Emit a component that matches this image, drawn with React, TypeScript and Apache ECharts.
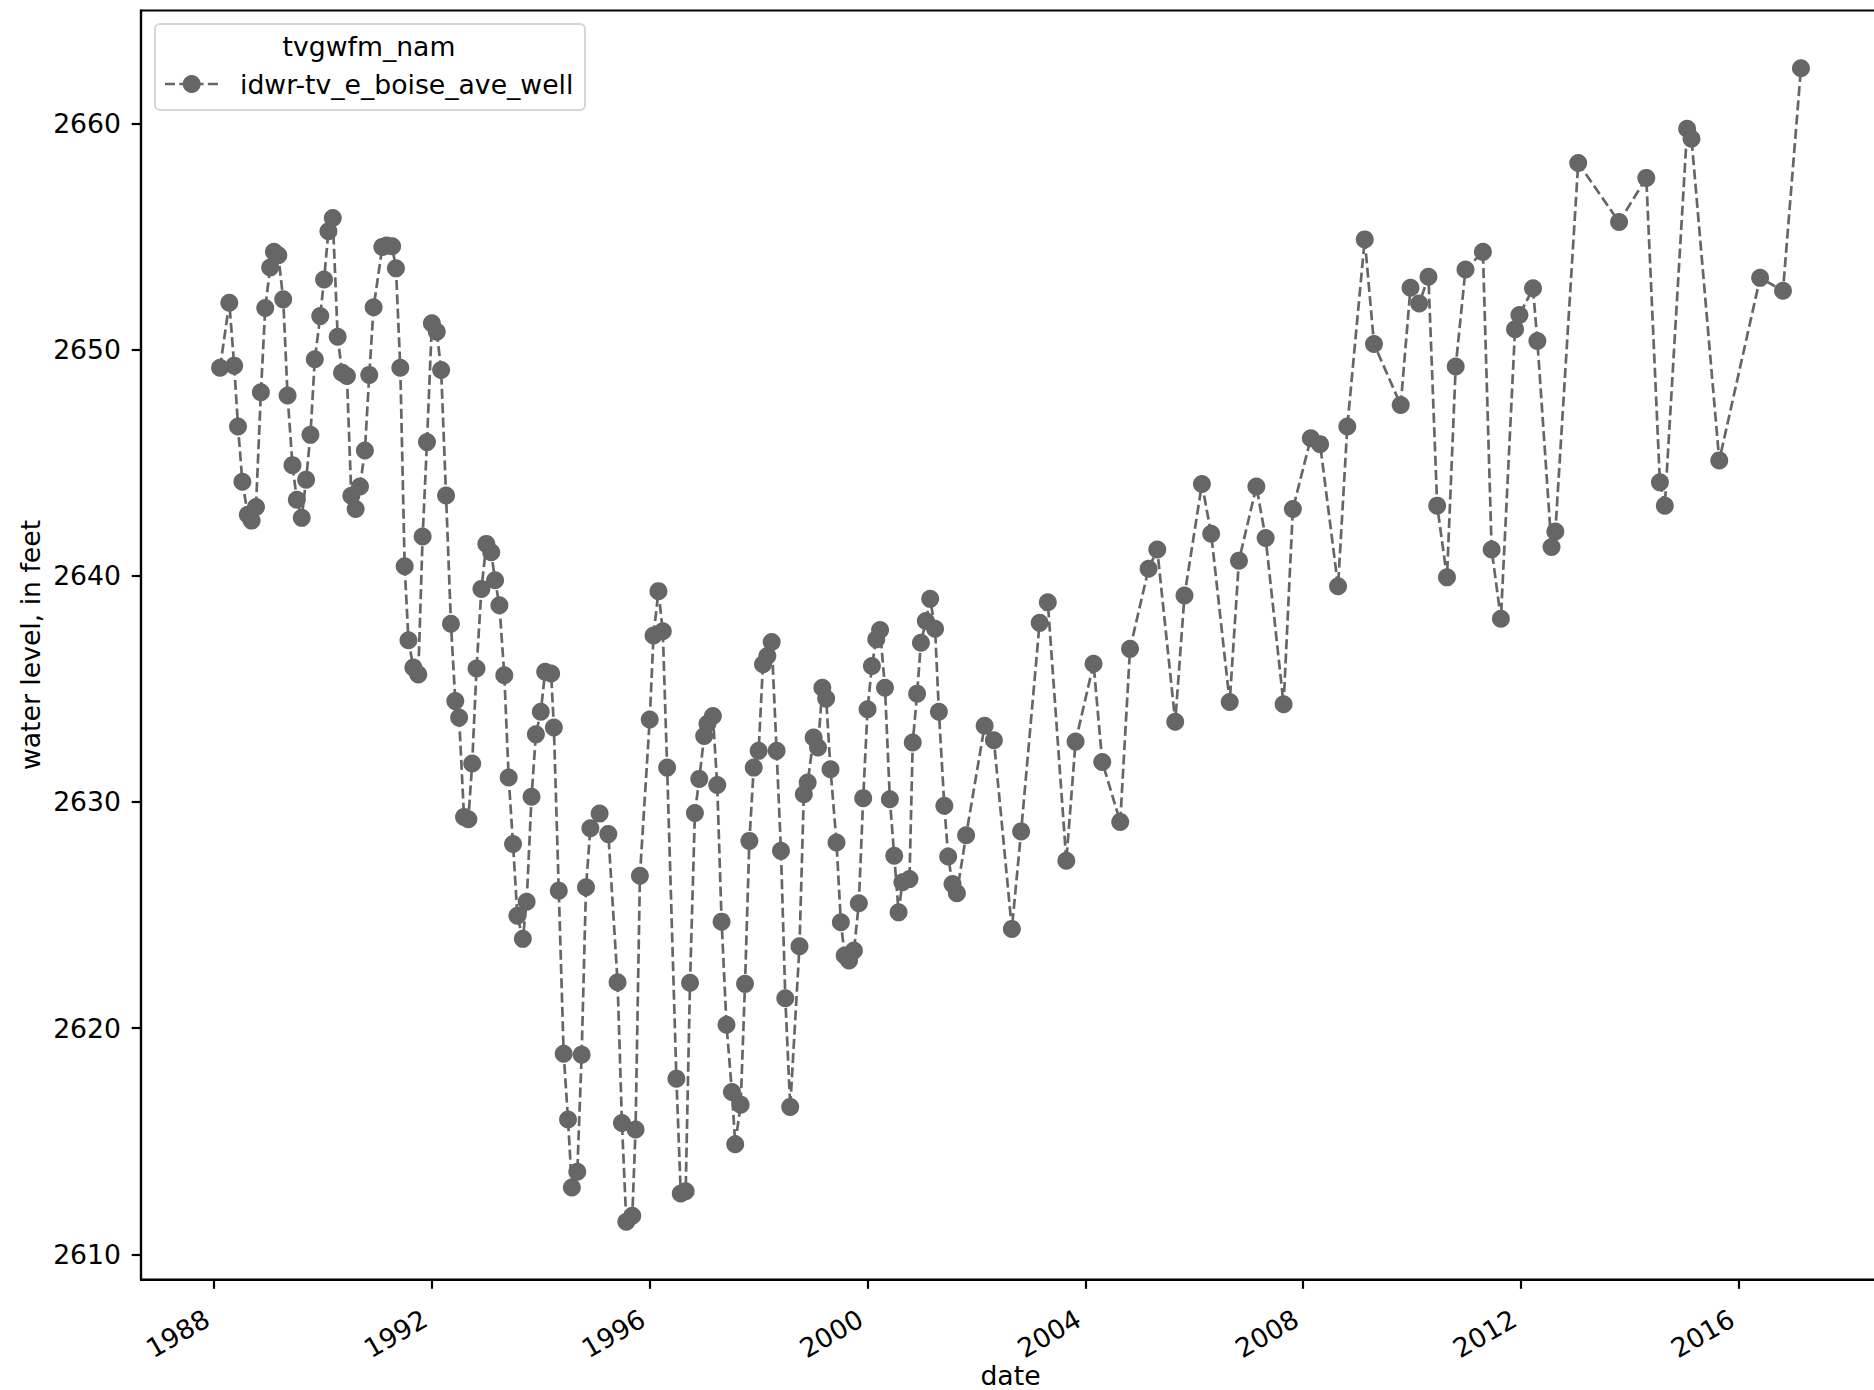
import React, { useEffect, useRef } from "react";
import * as echarts from "echarts";

// Measurement time (decimal year) and water level (feet)
const years: number[] = [
  1988.11, 1988.28, 1988.37, 1988.44, 1988.52, 1988.62, 1988.69, 1988.77, 1988.86, 1988.94,
  1989.03, 1989.10, 1989.18, 1989.27, 1989.35, 1989.44, 1989.52, 1989.61, 1989.69, 1989.77,
  1989.85, 1989.95, 1990.02, 1990.10, 1990.18, 1990.27, 1990.35, 1990.44, 1990.52, 1990.60,
  1990.68, 1990.77, 1990.85, 1990.93, 1991.09, 1991.17, 1991.27, 1991.34, 1991.42, 1991.50,
  1991.57, 1991.66, 1991.75, 1991.83, 1991.91, 1992.00, 1992.09, 1992.17, 1992.26, 1992.35,
  1992.43, 1992.50, 1992.59, 1992.67, 1992.74, 1992.82, 1992.91, 1993.00, 1993.09, 1993.16,
  1993.24, 1993.33, 1993.41, 1993.49, 1993.57, 1993.67, 1993.74, 1993.83, 1993.91, 1994.00,
  1994.08, 1994.19, 1994.24, 1994.33, 1994.42, 1994.50, 1994.57, 1994.67, 1994.75, 1994.83,
  1994.91, 1995.08, 1995.24, 1995.41, 1995.49, 1995.57, 1995.68, 1995.74, 1995.82, 1996.00,
  1996.07, 1996.16, 1996.24, 1996.32, 1996.49, 1996.57, 1996.66, 1996.74, 1996.83, 1996.91,
  1997.00, 1997.06, 1997.16, 1997.24, 1997.32, 1997.41, 1997.51, 1997.57, 1997.67, 1997.75,
  1997.83, 1997.91, 1998.00, 1998.08, 1998.16, 1998.24, 1998.33, 1998.41, 1998.49, 1998.58,
  1998.75, 1998.83, 1998.90, 1999.01, 1999.09, 1999.17, 1999.24, 1999.32, 1999.43, 1999.51,
  1999.58, 1999.66, 1999.75, 1999.84, 1999.92, 2000.00, 2000.08, 2000.16, 2000.23, 2000.32,
  2000.41, 2000.49, 2000.57, 2000.64, 2000.77, 2000.83, 2000.91, 2000.98, 2001.07, 2001.15,
  2001.24, 2001.31, 2001.41, 2001.48, 2001.56, 2001.64, 2001.81, 2002.15, 2002.32, 2002.65,
  2002.82, 2003.16, 2003.31, 2003.65, 2003.82, 2004.15, 2004.31, 2004.64, 2004.82, 2005.16,
  2005.32, 2005.65, 2005.82, 2006.14, 2006.31, 2006.65, 2006.82, 2007.14, 2007.31, 2007.64,
  2007.81, 2008.14, 2008.31, 2008.64, 2008.81, 2009.13, 2009.30, 2009.79, 2009.97, 2010.13,
  2010.30, 2010.46, 2010.64, 2010.80, 2010.98, 2011.30, 2011.46, 2011.63, 2011.89, 2011.97,
  2012.22, 2012.30, 2012.56, 2012.63, 2013.05, 2013.80, 2014.30, 2014.55, 2014.64, 2015.05,
  2015.13, 2015.64, 2016.39, 2016.81, 2017.14,
];

const waterLevel: number[] = [
  2649.20, 2652.07, 2649.29, 2646.60, 2644.16, 2642.70, 2642.44, 2643.04, 2648.11, 2651.84,
  2653.63, 2654.32, 2654.17, 2652.22, 2647.97, 2644.89, 2643.36, 2642.56, 2644.25, 2646.23,
  2649.57, 2651.48, 2653.10, 2655.23, 2655.82, 2650.57, 2648.98, 2648.83, 2643.54, 2642.95,
  2643.95, 2645.54, 2648.88, 2651.87, 2654.54, 2654.60, 2654.57, 2653.59, 2649.20, 2640.42,
  2637.15, 2635.94, 2635.64, 2641.74, 2645.91, 2651.16, 2650.79, 2649.10, 2643.55, 2637.88,
  2634.46, 2633.73, 2629.34, 2629.24, 2631.70, 2635.90, 2639.42, 2641.41, 2641.04, 2639.80,
  2638.70, 2635.60, 2631.08, 2628.14, 2624.97, 2623.95, 2625.59, 2630.23, 2632.99, 2633.99,
  2635.76, 2635.68, 2633.29, 2626.08, 2618.87, 2615.96, 2612.96, 2613.65, 2618.83, 2626.23,
  2628.84, 2629.49, 2628.58, 2622.03, 2615.81, 2611.44, 2611.71, 2615.52, 2626.74, 2633.65,
  2637.36, 2639.32, 2637.55, 2631.52, 2617.77, 2612.69, 2612.79, 2622.01, 2629.51, 2631.02,
  2632.92, 2633.46, 2633.80, 2630.75, 2624.71, 2620.15, 2617.18, 2614.87, 2616.62, 2621.96,
  2628.28, 2631.52, 2632.26, 2636.09, 2636.45, 2637.07, 2632.26, 2627.84, 2621.32, 2616.52,
  2623.62, 2630.34, 2630.86, 2632.85, 2632.41, 2635.05, 2634.57, 2631.45, 2628.21, 2624.68,
  2623.21, 2622.99, 2623.43, 2625.52, 2630.17, 2634.10, 2636.01, 2637.19, 2637.60, 2635.05,
  2630.12, 2627.62, 2625.12, 2626.45, 2626.59, 2632.63, 2634.79, 2637.04, 2638.00, 2638.98,
  2637.66, 2633.99, 2629.83, 2627.59, 2626.37, 2625.97, 2628.53, 2633.37, 2632.73, 2624.39,
  2628.70, 2637.92, 2638.83, 2627.40, 2632.67, 2636.11, 2631.77, 2629.12, 2636.77, 2640.31,
  2641.16, 2633.55, 2639.13, 2644.06, 2641.86, 2634.42, 2640.67, 2643.95, 2641.67, 2634.32,
  2642.95, 2646.08, 2645.82, 2639.54, 2646.60, 2654.87, 2650.25, 2647.55, 2652.73, 2652.04,
  2653.22, 2643.10, 2639.93, 2649.25, 2653.54, 2654.32, 2641.16, 2638.10, 2650.90, 2651.53,
  2652.71, 2650.38, 2641.27, 2641.96, 2658.25, 2655.64, 2657.59, 2644.13, 2643.10, 2659.76,
  2659.32, 2645.10, 2653.17, 2652.60, 2662.44,
];

const xTickYears: number[] = [1988, 1992, 1996, 2000, 2004, 2008, 2012, 2016];
const yTickValues: number[] = [2610, 2620, 2630, 2640, 2650, 2660];

const seriesName = "idwr-tv_e_boise_ave_well";
const legendTitle = "tvgwfm_nam";
const xAxisName = "date";
const yAxisName = "water level, in feet";

const FONT = '"DejaVu Sans", "Liberation Sans", sans-serif';
const FS = 26.67;
const GRAY = "#666666";

export default function App() {
  const ref = useRef<HTMLDivElement>(null);

  useEffect(() => {
    if (!ref.current) return;
    const chart = echarts.init(ref.current, null, { renderer: "svg" });
    const data = years.map((y, i) => [y, waterLevel[i]]);
    const pad = (e: { min: number; max: number }) => 0.05 * (e.max - e.min);

    const option: any = {
      animation: false,
      backgroundColor: "#ffffff",
      textStyle: { fontFamily: FONT },
      grid: {
        left: 141,
        top: 10.5,
        width: 1739,
        height: 1269,
        containLabel: false,
        outerBoundsMode: "none",
        show: true,
        borderColor: "#000000",
        borderWidth: 2.2,
        backgroundColor: "transparent",
      },
      xAxis: {
        type: "value",
        min: (e: any) => e.min - pad(e),
        max: (e: any) => e.max + pad(e),
        splitLine: { show: false },
        axisLine: { show: true, onZero: false, lineStyle: { color: "#000", width: 2.2 } },
        axisTick: {
          show: true,
          customValues: xTickYears,
          length: 9.3,
          lineStyle: { color: "#000", width: 2.2 },
        },
        axisLabel: {
          customValues: xTickYears,
          rotate: 30,
          margin: 33,
          padding: [0, 8, 0, 0],
          fontSize: FS,
          fontFamily: FONT,
          color: "#000",
          formatter: (v: number) => String(Math.round(v)),
        },
        name: xAxisName,
        nameLocation: "middle",
        nameGap: 82,
        nameMoveOverlap: false,
        nameTextStyle: { fontSize: FS, fontFamily: FONT, color: "#000" },
      },
      yAxis: {
        type: "value",
        min: (e: any) => e.min - pad(e),
        max: (e: any) => e.max + pad(e),
        splitLine: { show: false },
        axisLine: { show: true, onZero: false, lineStyle: { color: "#000", width: 2.2 } },
        axisTick: {
          show: true,
          customValues: yTickValues,
          length: 9.3,
          lineStyle: { color: "#000", width: 2.2 },
        },
        axisLabel: {
          customValues: yTickValues,
          margin: 20,
          fontSize: FS,
          fontFamily: FONT,
          color: "#000",
          formatter: (v: number) => String(Math.round(v)),
        },
        name: yAxisName,
        nameLocation: "middle",
        nameGap: 97,
        nameMoveOverlap: false,
        nameTextStyle: { fontSize: FS, fontFamily: FONT, color: "#000" },
      },
      series: [
        {
          name: seriesName,
          type: "line",
          data,
          symbol: "circle",
          symbolSize: 18,
          showSymbol: true,
          itemStyle: { color: GRAY },
          lineStyle: { color: GRAY, width: 2.7, type: [10, 4.3] },
          z: 3,
        },
      ],
      graphic: [
        {
          type: "rect",
          z: 100,
          shape: { x: 155, y: 24, width: 430, height: 86, r: 5 },
          style: { fill: "rgba(255,255,255,0.8)", stroke: "#d6d6d6", lineWidth: 2 },
        },
        {
          type: "text",
          z: 101,
          x: 369,
          y: 46,
          style: {
            text: legendTitle,
            font: `${FS}px ${FONT}`,
            fill: "#000",
            align: "center",
            verticalAlign: "middle",
          },
        },
        {
          type: "line",
          z: 101,
          shape: { x1: 165, y1: 84, x2: 218, y2: 84 },
          style: { stroke: GRAY, lineWidth: 2.7, lineDash: [10, 4.3] },
        },
        {
          type: "circle",
          z: 102,
          shape: { cx: 191.7, cy: 84, r: 9 },
          style: { fill: GRAY },
        },
        {
          type: "text",
          z: 101,
          x: 240,
          y: 84,
          style: {
            text: seriesName,
            font: `${FS}px ${FONT}`,
            fill: "#000",
            align: "left",
            verticalAlign: "middle",
          },
        },
      ],
    };

    chart.setOption(option);
    return () => chart.dispose();
  }, []);

  return (
    <div
      ref={ref}
      style={{ position: "absolute", left: 0, top: 0, width: 1874, height: 1390, background: "#fff" }}
    />
  );
}
